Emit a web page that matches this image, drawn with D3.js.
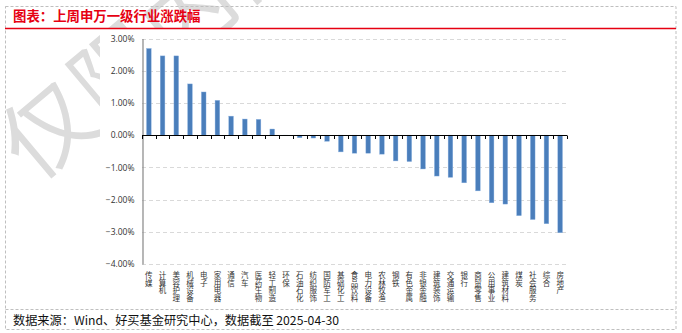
<!DOCTYPE html>
<html>
<head>
<meta charset="utf-8">
<script src="https://cdn.jsdelivr.net/npm/d3@7"></script>
<style>
  html, body { margin: 0; padding: 0; background: #fff; }
  svg { display: block; }
</style>
</head>
<body>
<svg id="chart" width="682" height="333"></svg>
<script>
// 申万一级行业 weekly change (%)
const industries = ["传媒","计算机","美容护理","机械设备","电子","家用电器","通信","汽车","医药生物","轻工制造",
  "环保","石油石化","纺织服饰","国防军工","基础化工","食品饮料","电力设备","农林牧渔","钢铁","有色金属",
  "非银金融","建筑装饰","交通运输","银行","商贸零售","公用事业","建筑材料","煤炭","社会服务","综合","房地产"];
const changes = [2.69, 2.46, 2.46, 1.59, 1.34, 1.08, 0.59, 0.50, 0.49, 0.19,
  -0.02, -0.08, -0.09, -0.19, -0.52, -0.56, -0.56, -0.59, -0.80, -0.82,
  -1.05, -1.27, -1.31, -1.48, -1.73, -2.10, -2.14, -2.50, -2.62, -2.75, -3.03];
const yTicks = [3, 2, 1, 0, -1, -2, -3, -4];
const titleText = "图表：上周申万一级行业涨跌幅";
const sourceText = "数据来源：Wind、好买基金研究中心，数据截至 2025-04-30";
const watermarkText = "仅限内部使用";

const svg = d3.select("#chart");
const cjk = "'Noto Sans CJK SC', 'Noto Sans', sans-serif";

// background watermark
svg.append("text")
  .attr("transform", "translate(34,184) rotate(-40)")
  .attr("font-family", cjk)
  .attr("font-size", 90)
  .attr("font-weight", 400)
  .attr("fill", "#dcdcdc")
  .attr("letter-spacing", 2)
  .text(watermarkText);

// white chart area on top of watermark
svg.append("rect").attr("x", 100).attr("y", 29).attr("width", 576).attr("height", 280).attr("fill", "#fff");

// frame
const dash = "3,2";
svg.append("rect").attr("x", 5.5).attr("y", 6.5).attr("width", 670.5).attr("height", 323)
  .attr("fill", "none").attr("stroke", "#bfbfbf").attr("stroke-dasharray", dash);
svg.append("line").attr("x1", 5.5).attr("x2", 676).attr("y1", 309.5).attr("y2", 309.5)
  .attr("stroke", "#bfbfbf").attr("stroke-dasharray", dash);

// title
svg.append("text").attr("x", 13).attr("y", 21)
  .attr("font-family", cjk).attr("font-size", 13.4).attr("font-weight", 700)
  .attr("fill", "#e60012").text(titleText);
svg.append("line").attr("x1", 5).attr("x2", 676).attr("y1", 28.5).attr("y2", 28.5)
  .attr("stroke", "#e60012").attr("stroke-width", 1.5);

// scales
const x = d3.scaleBand().domain(industries).range([142, 567]).paddingInner(0.66).paddingOuter(0.33);
const y = d3.scaleLinear().domain([-4, 3]).range([264, 38.5]);

// gridlines
svg.append("g").selectAll("line").data(yTicks.filter(d => d !== 0)).join("line")
  .attr("x1", 142).attr("x2", 567)
  .attr("y1", d => Math.round(y(d)) + 0.5).attr("y2", d => Math.round(y(d)) + 0.5)
  .attr("stroke", "#d9d9d9").attr("stroke-dasharray", "4,3");

// y axis
const yAxis = d3.axisLeft(y).tickValues(yTicks).tickFormat(d => d3.format(".2f")(d) + "%").tickSize(0).tickPadding(8);
const gy = svg.append("g").attr("transform", "translate(142.5,0)").call(yAxis);
gy.select(".domain").attr("stroke", "#868686").attr("stroke-width", 1.2);
gy.selectAll("text").attr("font-family", "'Open Sans', sans-serif").attr("font-size", 8.5).attr("fill", "#333");

// bars
svg.append("g").selectAll("rect").data(industries).join("rect")
  .attr("x", d => x(d))
  .attr("width", x.bandwidth())
  .attr("y", (d, i) => y(Math.max(0, changes[i])))
  .attr("height", (d, i) => Math.abs(y(changes[i]) - y(0)))
  .attr("fill", "#4a7ebb")
  .attr("stroke", "#8db3e2").attr("stroke-width", 0.4);

// zero axis with category-boundary ticks
const step = x.step();
const bounds = d3.range(industries.length + 1).map(i => 142 + i * step);
const gx = svg.append("g");
gx.append("line").attr("x1", 142).attr("x2", 567).attr("y1", Math.round(y(0)) + 0.5).attr("y2", Math.round(y(0)) + 0.5)
  .attr("stroke", "#000").attr("stroke-width", 1);
gx.selectAll("line.tk").data(bounds).join("line").attr("class", "tk")
  .attr("x1", d => Math.round(d) + 0.5).attr("x2", d => Math.round(d) + 0.5)
  .attr("y1", Math.round(y(0)) + 0.5).attr("y2", Math.round(y(0)) + 4)
  .attr("stroke", "#000").attr("stroke-width", 1);

// vertical category labels: one stacked character per line
const labels = svg.append("g").selectAll("text").data(industries).join("text")
  .attr("font-family", cjk).attr("font-size", 7.5).attr("fill", "#333")
  .attr("text-anchor", "middle");
labels.each(function(d) {
  const t = d3.select(this);
  const cx = x(d) + x.bandwidth() / 2;
  Array.from(d).forEach((ch, k) => {
    t.append("tspan").attr("x", cx).attr("y", 278 + k * 7.6).text(ch);
  });
});

// source note
svg.append("text").attr("x", 13).attr("y", 325)
  .attr("font-family", cjk).attr("font-size", 12.2).attr("fill", "#111")
  .text(sourceText);
</script>
</body>
</html>
